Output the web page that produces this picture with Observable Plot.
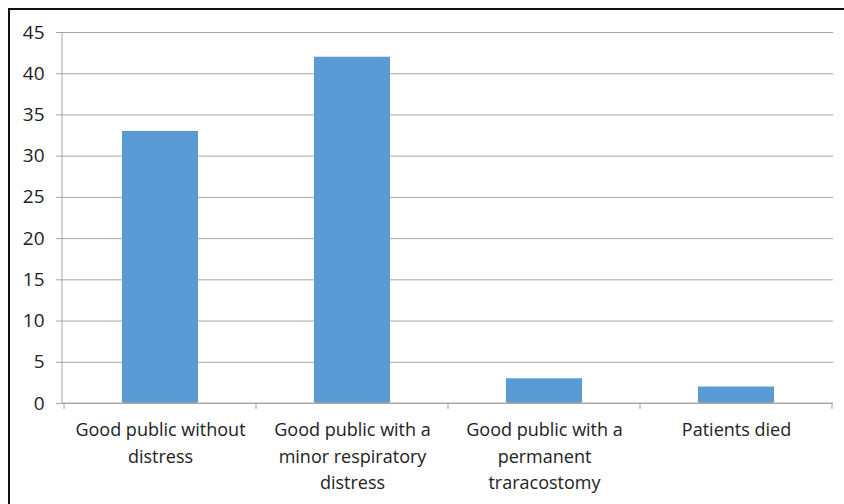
<!DOCTYPE html>
<html><head><meta charset="utf-8">
<script src="https://cdn.jsdelivr.net/npm/d3@7"></script>
<script src="https://cdn.jsdelivr.net/npm/@observablehq/plot@0.6"></script>
<style>
html,body{margin:0;padding:0;background:#fff;overflow:hidden;width:844px;height:504px;}
#frame{position:absolute;left:8px;top:8px;width:900px;height:600px;border:2px solid #111;}
#chart{position:absolute;left:0;top:0;}
</style></head>
<body><div id="frame"></div><div id="chart"></div>
<script>
const categories = ["Good public without\ndistress", "Good public with a\nminor respiratory\ndistress", "Good public with a\npermanent\ntraracostomy", "Patients died"];
const counts = [33, 42, 3, 2];
const yTicks = [0, 5, 10, 15, 20, 25, 30, 35, 40, 45];
const data = categories.map((c, i) => ({category: c, count: counts[i]}));

const bandTicks = (index, scales, channels, dimensions) => {
  const g = d3.create("svg:g");
  const x = scales.x, bw = x.bandwidth ? x.bandwidth() : 0;
  const step = x.step ? x.step() : bw;
  const y0 = dimensions.height - dimensions.marginBottom;
  const xs = categories.map(c => x(c));
  xs.push(xs[xs.length - 1] + step);
  for (const px of xs) {
    g.append("line").attr("x1", px).attr("x2", px).attr("y1", y0).attr("y2", y0 + 6)
      .attr("stroke", "#a6a6a6").attr("stroke-width", 1);
  }
  g.append("line").attr("x1", dimensions.marginLeft).attr("x2", dimensions.width - dimensions.marginRight)
    .attr("y1", y0).attr("y2", y0).attr("stroke", "#a6a6a6");
  g.append("line").attr("x1", dimensions.marginLeft).attr("x2", dimensions.marginLeft)
    .attr("y1", dimensions.marginTop).attr("y2", y0).attr("stroke", "#a6a6a6");
  return g.node();
};

const chart = Plot.plot({
  width: 844,
  height: 504,
  marginLeft: 62,
  marginRight: 11,
  marginTop: 32,
  marginBottom: 101,
  style: {fontFamily: "'Open Sans', sans-serif", background: "transparent", color: "#333"},
  x: {domain: categories, padding: 0, label: null},
  y: {domain: [0, 45], label: null},
  marks: [
    Plot.ruleY(yTicks, {stroke: "#a6a6a6", strokeWidth: 1, insetLeft: -6}),
    Plot.barY(data, {x: "category", y: "count", fill: "#5b9bd5", insetLeft: 58, insetRight: 58}),
    bandTicks,
    Plot.axisY({ticks: yTicks, tickSize: 0, tickPadding: 18, fontSize: 19, label: null, fill: "#222"}),
    Plot.axisX({tickSize: 0, tickPadding: 14, fontSize: 18, lineHeight: 1.47, label: null, fill: "#222"})
  ]
});
document.getElementById("chart").appendChild(chart);
</script></body></html>
